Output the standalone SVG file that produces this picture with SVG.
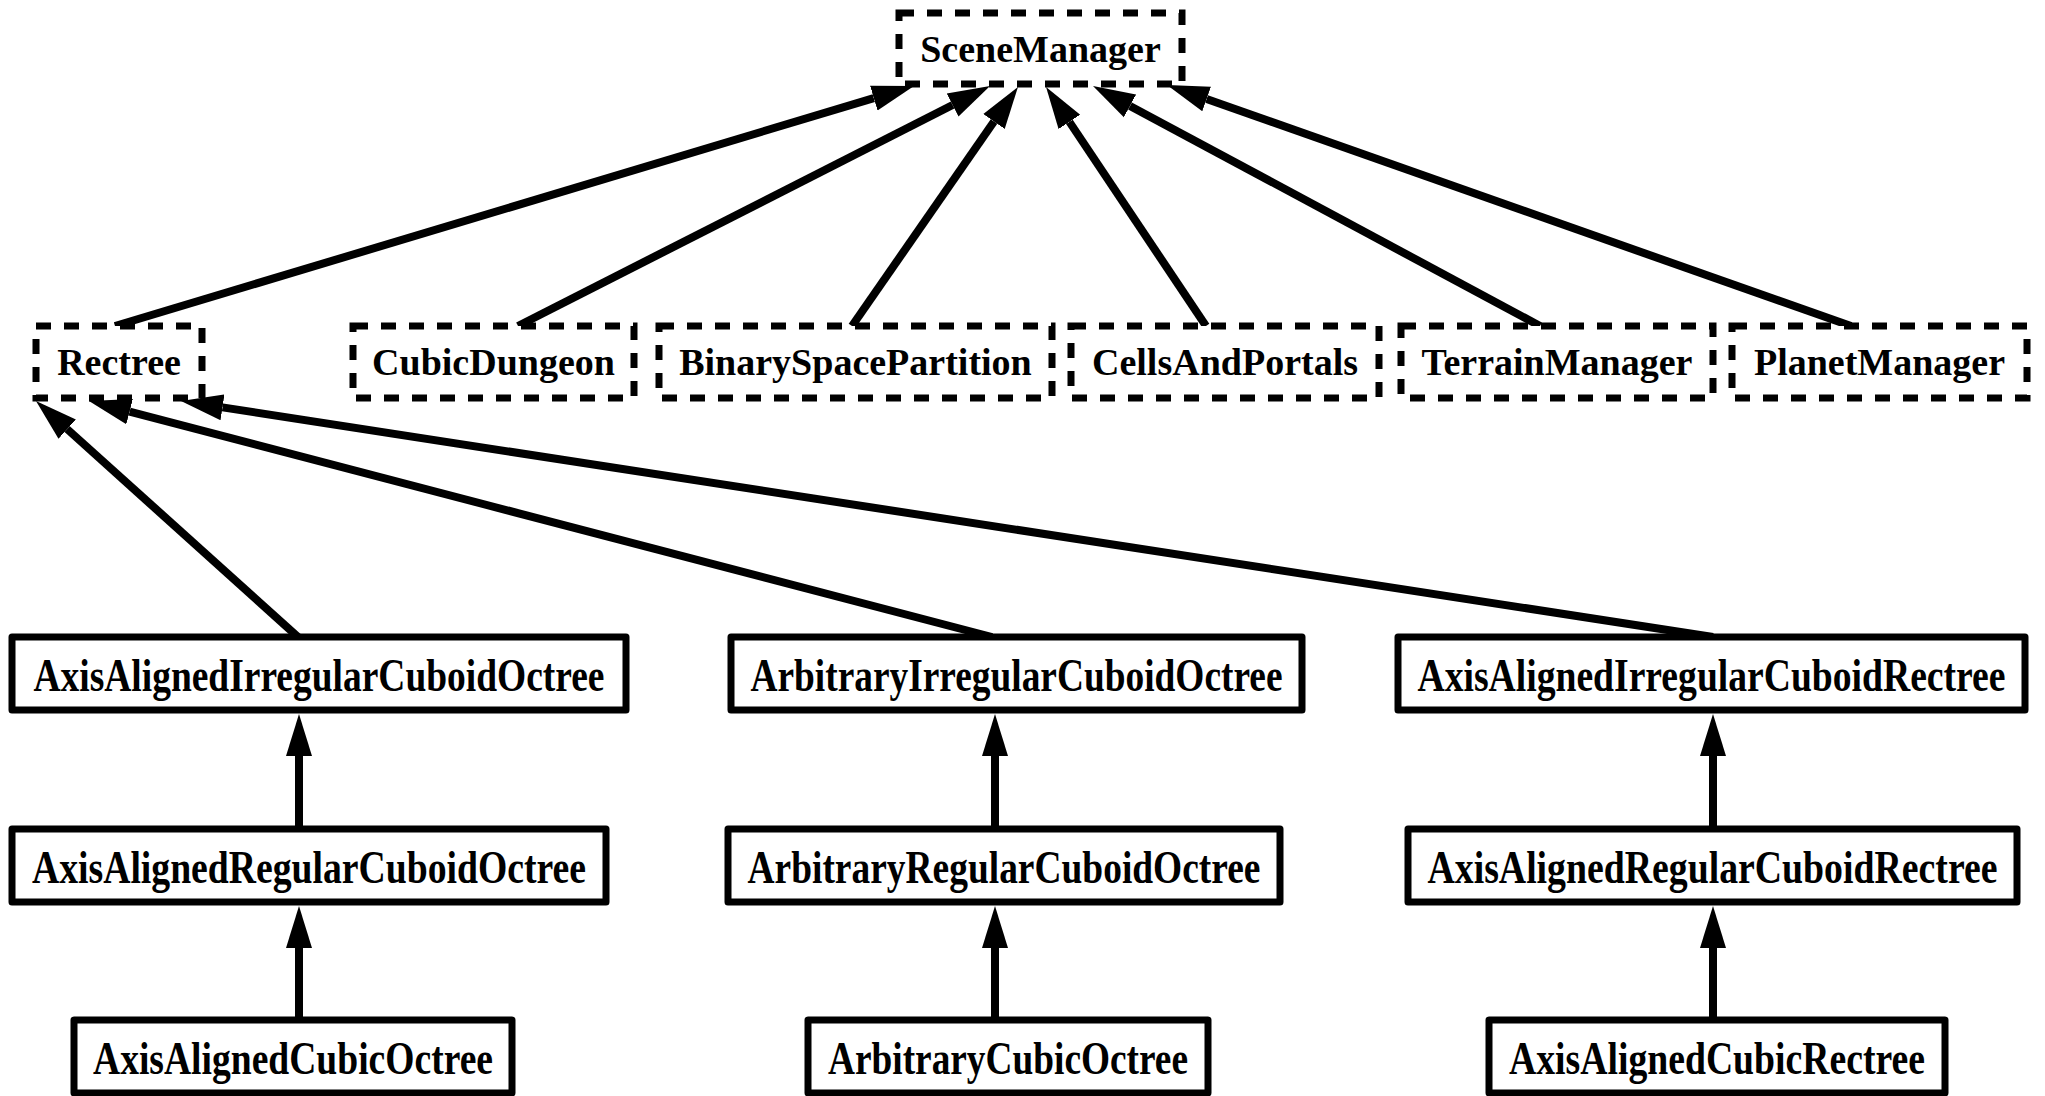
<svg xmlns="http://www.w3.org/2000/svg" width="2045" height="1096" viewBox="0 0 2045 1096">
<defs>
<style>
.dash{fill:#fff;stroke:#000;stroke-width:7;stroke-dasharray:15 13}
.solid{fill:#fff;stroke:#000;stroke-width:7;stroke-linejoin:round}
.t1{font-family:"Liberation Serif","Times New Roman",serif;font-weight:bold;font-size:38px;text-anchor:middle;fill:#000}
.t2{font-family:"Liberation Serif","Times New Roman",serif;font-weight:bold;font-size:46px;text-anchor:middle;fill:#000}
.edge{stroke:#000;stroke-width:8;fill:none;marker-end:url(#ah)}
</style>
<marker id="ah" markerUnits="userSpaceOnUse" markerWidth="44" markerHeight="28" viewBox="0 -14 44 28" refX="0" refY="0" orient="auto"><path d="M0,-13 L42,0 L0,13 z" fill="#000"/></marker>
</defs>
<rect width="2045" height="1096" fill="#fff"/>
<g id="connectors">
<line class="edge" x1="115" y1="326" x2="873.8" y2="98.1"/>
<line class="edge" x1="518" y1="326" x2="952.6" y2="105"/>
<line class="edge" x1="852" y1="326" x2="994" y2="121.5"/>
<line class="edge" x1="1206" y1="326" x2="1069.4" y2="121.9"/>
<line class="edge" x1="1540" y1="326" x2="1130" y2="105.9"/>
<line class="edge" x1="1851" y1="326" x2="1206.6" y2="99"/>
<line class="edge" x1="298" y1="637" x2="67.2" y2="429.1"/>
<line class="edge" x1="992" y1="637" x2="129.6" y2="411.6"/>
<line class="edge" x1="1713" y1="637" x2="222.5" y2="407.4"/>
<line class="edge" x1="299" y1="829" x2="299" y2="756"/>
<line class="edge" x1="299" y1="1020" x2="299" y2="948"/>
<line class="edge" x1="995" y1="829" x2="995" y2="756"/>
<line class="edge" x1="995" y1="1020" x2="995" y2="948"/>
<line class="edge" x1="1713" y1="829" x2="1713" y2="756"/>
<line class="edge" x1="1713" y1="1020" x2="1713" y2="948"/>
</g>
<g id="SceneManager"><rect class="dash" x="899" y="13" width="283" height="71"/><text class="t1" x="1040.5" y="62">SceneManager</text></g>
<g id="Rectree"><rect class="dash" x="36" y="326" width="166" height="72"/><text class="t1" x="119" y="375">Rectree</text></g>
<g id="CubicDungeon"><rect class="dash" x="353" y="326" width="281" height="72"/><text class="t1" x="493.5" y="375">CubicDungeon</text></g>
<g id="BinarySpacePartition"><rect class="dash" x="659" y="326" width="393" height="72"/><text class="t1" x="855.5" y="375">BinarySpacePartition</text></g>
<g id="CellsAndPortals"><rect class="dash" x="1071" y="326" width="308" height="72"/><text class="t1" x="1225" y="375">CellsAndPortals</text></g>
<g id="TerrainManager"><rect class="dash" x="1401" y="326" width="312" height="72"/><text class="t1" x="1557" y="375">TerrainManager</text></g>
<g id="PlanetManager"><rect class="dash" x="1732" y="326" width="295" height="72"/><text class="t1" x="1879.5" y="375">PlanetManager</text></g>
<g id="AxisAlignedIrregularCuboidOctree"><rect class="solid" x="12" y="637" width="614" height="73"/><text class="t2" x="319" y="691" textLength="571" lengthAdjust="spacingAndGlyphs">AxisAlignedIrregularCuboidOctree</text></g>
<g id="ArbitraryIrregularCuboidOctree"><rect class="solid" x="731" y="637" width="571" height="73"/><text class="t2" x="1016.5" y="691" textLength="532" lengthAdjust="spacingAndGlyphs">ArbitraryIrregularCuboidOctree</text></g>
<g id="AxisAlignedIrregularCuboidRectree"><rect class="solid" x="1398" y="637" width="627" height="73"/><text class="t2" x="1711.5" y="691" textLength="588" lengthAdjust="spacingAndGlyphs">AxisAlignedIrregularCuboidRectree</text></g>
<g id="AxisAlignedRegularCuboidOctree"><rect class="solid" x="12" y="829" width="594" height="73"/><text class="t2" x="309" y="883" textLength="554" lengthAdjust="spacingAndGlyphs">AxisAlignedRegularCuboidOctree</text></g>
<g id="ArbitraryRegularCuboidOctree"><rect class="solid" x="728" y="829" width="552" height="73"/><text class="t2" x="1004" y="883" textLength="513" lengthAdjust="spacingAndGlyphs">ArbitraryRegularCuboidOctree</text></g>
<g id="AxisAlignedRegularCuboidRectree"><rect class="solid" x="1408" y="829" width="609" height="73"/><text class="t2" x="1712.5" y="883" textLength="570" lengthAdjust="spacingAndGlyphs">AxisAlignedRegularCuboidRectree</text></g>
<g id="AxisAlignedCubicOctree"><rect class="solid" x="74" y="1020" width="438" height="73"/><text class="t2" x="293" y="1074" textLength="400" lengthAdjust="spacingAndGlyphs">AxisAlignedCubicOctree</text></g>
<g id="ArbitraryCubicOctree"><rect class="solid" x="808" y="1020" width="400" height="73"/><text class="t2" x="1008" y="1074" textLength="360" lengthAdjust="spacingAndGlyphs">ArbitraryCubicOctree</text></g>
<g id="AxisAlignedCubicRectree"><rect class="solid" x="1489" y="1020" width="456" height="73"/><text class="t2" x="1717" y="1074" textLength="416" lengthAdjust="spacingAndGlyphs">AxisAlignedCubicRectree</text></g>
</svg>
